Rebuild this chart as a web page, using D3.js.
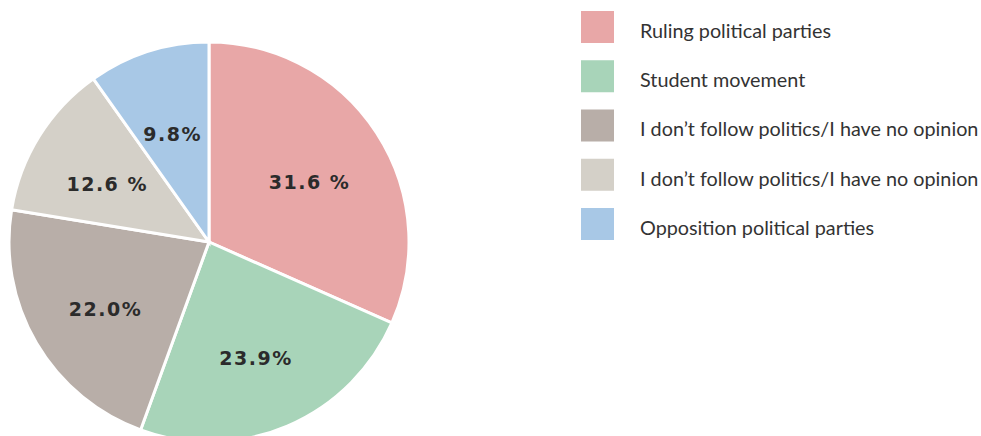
<!DOCTYPE html>
<html>
<head>
<meta charset="utf-8">
<script src="https://cdn.jsdelivr.net/npm/d3@7"></script>
<style>
  body { margin: 0; background: #fff; }
  svg { display: block; }
</style>
</head>
<body>
<svg id="canvas"></svg>
<script>
const categories = [
    "Ruling political parties",
    "Student movement",
    "I don\u2019t follow politics/I have no opinion",
    "I don\u2019t follow politics/I have no opinion",
    "Opposition political parties"
];
const values = [31.6, 23.9, 22.0, 12.6, 9.8];
const labels = ["31.6 %", "23.9%", "22.0%", "12.6 %", "9.8%"];
const colors = ["#e8a7a7", "#a8d4b9", "#b8aea8", "#d4d0c8", "#a8c8e6"];

const width = 981;
const height = 436;
const cx = 209;
const cy = 242;
const radius = 200;

const canvas = d3.select("#canvas")
    .attr("width", width)
    .attr("height", height);

const data = categories.map((c, i) => ({ name: c, value: values[i], label: labels[i], color: colors[i] }));

const pie = d3.pie()
    .value(d => d.value)
    .sort(null);

const arc = d3.arc()
    .innerRadius(0)
    .outerRadius(radius);

const labelArc = d3.arc()
    .innerRadius(radius * 0.6)
    .outerRadius(radius * 0.6);

const g = canvas.append("g")
    .attr("transform", `translate(${cx}, ${cy})`);

const slices = g.selectAll("g.slice")
    .data(pie(data))
    .enter()
    .append("g")
    .attr("class", "slice");

slices.append("path")
    .attr("d", arc)
    .attr("fill", d => d.data.color)
    .attr("stroke", "#fff")
    .attr("stroke-width", 3)
    .attr("stroke-linejoin", "miter");

slices.append("text")
    .attr("transform", d => `translate(${labelArc.centroid(d)})`)
    .attr("text-anchor", "middle")
    .attr("dy", "0.68em")
    .attr("font-family", "'DejaVu Sans', Verdana, sans-serif")
    .attr("font-weight", "bold")
    .attr("font-size", 19)
    .attr("letter-spacing", 1.5)
    .attr("fill", "#2b2b2b")
    .text(d => d.data.label);

// legend
const legendY = d3.scaleLinear()
    .domain([0, data.length - 1])
    .range([11, 208]);

const legend = canvas.append("g")
    .selectAll("g")
    .data(data)
    .enter()
    .append("g")
    .attr("transform", (d, i) => `translate(581, ${legendY(i)})`);

legend.append("rect")
    .attr("width", 33)
    .attr("height", 32)
    .attr("fill", d => d.color);

legend.append("text")
    .attr("x", 59)
    .attr("y", 20)
    .attr("dy", "0.35em")
    .attr("font-family", "Lato, 'Open Sans', sans-serif")
    .attr("font-size", 19.8)
    .attr("fill", "#333")
    .text(d => d.name);
</script>
</body>
</html>
